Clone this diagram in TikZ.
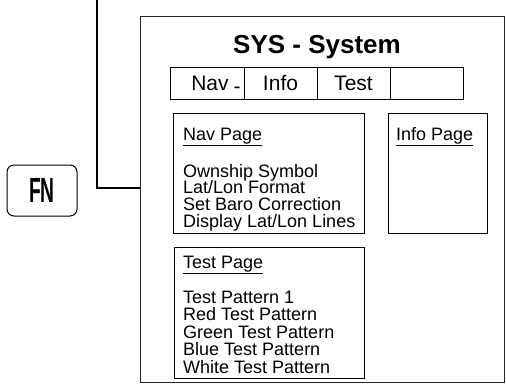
\documentclass[tikz,border=0pt]{standalone}
\usepackage{fontspec}
\setmainfont{Liberation Sans}
\usepackage{graphicx}
\begin{document}
\begin{tikzpicture}[x=1pt,y=-1pt,
  frame/.style={draw=black!85, line width=0.8pt, anchor=north west, inner sep=0pt},
  pagebox/.style={draw=black, line width=1.1pt, anchor=north west, inner sep=0pt},
  tabcell/.style={draw=black, line width=1pt, minimum height=32pt, inner sep=0pt, text height=15pt, text depth=0pt, font=\fontsize{21}{21}\selectfont},
  itemtxt/.style={anchor=base west, inner sep=0pt, font=\fontsize{18}{18}\selectfont},
  fnkey/.style={draw=black, line width=1pt, rounded corners=7pt, minimum width=70pt, minimum height=51pt, inner sep=0pt, font=\bfseries\fontsize{35}{35}\selectfont},
  conn/.style={draw=black, line width=1.1pt}]
\useasboundingbox (0,0) rectangle (506,391);
% main window
\node[frame, minimum width=364pt, minimum height=366pt] (sys) at (140,16) {};
\node[anchor=base, inner sep=0pt, font=\bfseries\fontsize{26}{26}\selectfont] (title) at (317,53) {SYS - System};
% tabs
\node[tabcell, minimum width=74pt] (t1) at (207,83) {\hspace*{18pt}Nav\hspace{5pt}\raisebox{-3pt}[0pt][0pt]{-}};
\node[tabcell, minimum width=73pt] (t2) at (280.5,83) {Info};
\node[tabcell, minimum width=73pt] (t3) at (353.5,83) {Test};
\node[tabcell, minimum width=73pt] (t4) at (426.5,83) {};
% pages
\node[pagebox, minimum width=191pt, minimum height=120pt] (navp) at (173,113) {};
\node[pagebox, minimum width=99pt, minimum height=120pt] (infop) at (388,113) {};
\node[pagebox, minimum width=190pt, minimum height=131pt] (testp) at (174,247) {};
% nav page text
\node[itemtxt] (navh) at (183,140) {\underline{Nav Page}};
\node[itemtxt] (n1) at (183,177) {Ownship Symbol};
\node[itemtxt] (n2) at (183,193.7) {Lat/Lon Format};
\node[itemtxt] (n3) at (183,210.3) {Set Baro Correction};
\node[itemtxt] (n4) at (183,227) {Display Lat/Lon Lines};
% info page text
\node[itemtxt] (infoh) at (396,140) {\underline{Info Page}};
% test page text
\node[itemtxt] (testh) at (183,268) {\underline{Test Page}};
\node[itemtxt] (p1) at (183,303) {Test Pattern 1};
\node[itemtxt] (p2) at (183,320.5) {Red Test Pattern};
\node[itemtxt] (p3) at (183,338) {Green Test Pattern};
\node[itemtxt] (p4) at (183,355.5) {Blue Test Pattern};
\node[itemtxt] (p5) at (183,373) {White Test Pattern};
% FN key
\node[fnkey] (fn) at (42,190.5) {\scalebox{0.55}[1]{FN}};
% connector
\coordinate (ctop) at (97,0);
\coordinate (cbend) at (97,188);
\draw[conn] (ctop) -- (cbend) -- (cbend -| sys.west);
\end{tikzpicture}
\end{document}
